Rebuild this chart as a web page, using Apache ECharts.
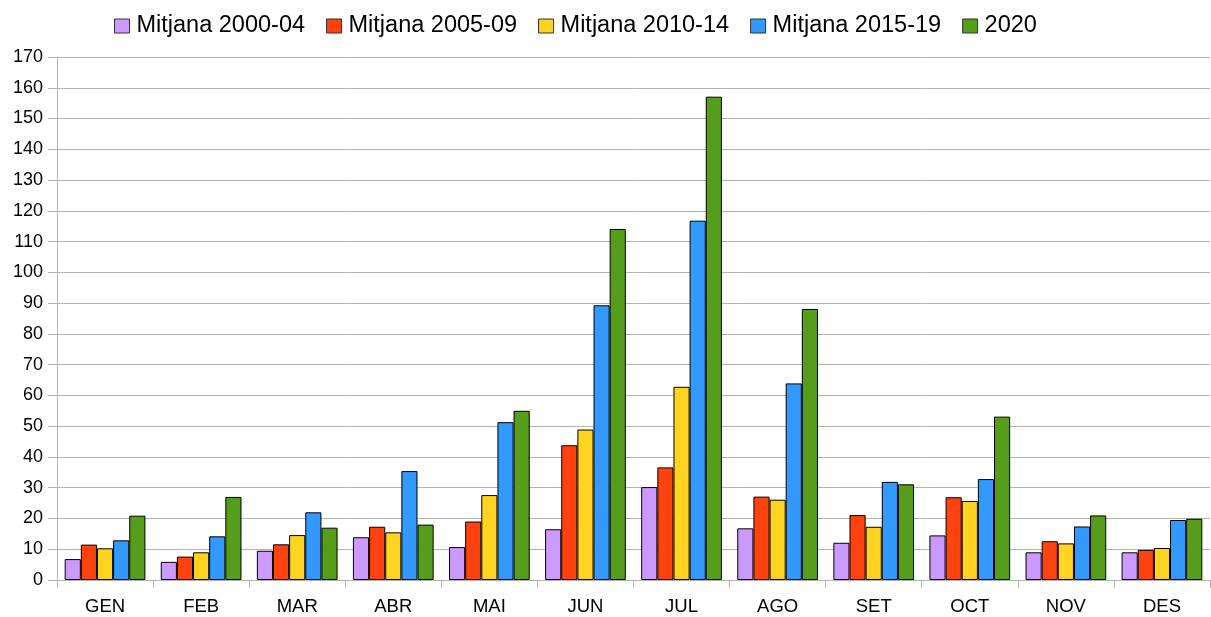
<!DOCTYPE html>
<html><head><meta charset="utf-8">
<script src="https://cdn.jsdelivr.net/npm/echarts@6/dist/echarts.min.js"></script>
<style>html,body{margin:0;padding:0;background:#fff}#c{width:1211px;height:617px}</style>
</head><body><div id="c"></div>
<script>
const categories = ['GEN','FEB','MAR','ABR','MAI','JUN','JUL','AGO','SET','OCT','NOV','DES'];
const seriesNames = ['Mitjana 2000-04','Mitjana 2005-09','Mitjana 2010-14','Mitjana 2015-19','2020'];
const m2000_04 = [6.8, 5.9, 9.5, 13.9, 10.7, 16.5, 30.2, 16.8, 12.1, 14.5, 9.0, 9.0];
const m2005_09 = [11.5, 7.6, 11.6, 17.3, 19.0, 43.8, 36.6, 27.1, 21.1, 26.9, 12.6, 9.8];
const m2010_14 = [10.3, 9.0, 14.6, 15.5, 27.6, 48.9, 62.8, 26.1, 17.3, 25.7, 11.9, 10.4];
const m2015_19 = [12.9, 14.2, 22.0, 35.4, 51.3, 89.3, 116.8, 63.9, 31.9, 32.8, 17.4, 19.5];
const y2020 = [20.9, 27.0, 17.0, 18.0, 55.0, 114.1, 157.1, 88.1, 31.1, 53.1, 21.0, 19.9];
const colors = ['#cc99ff','#ff420e','#ffd320','#3399ff','#579d1c'];
const allData = [m2000_04, m2005_09, m2010_14, m2015_19, y2020];

const chart = echarts.init(document.getElementById('c'), null, {renderer:'canvas'});
chart.setOption({
  animation: false,
  textStyle: {fontFamily: 'Liberation Sans'},
  legend: {
    top: 14, left: 114, padding: [0,0,0,0],
    itemWidth: 15, itemHeight: 14, itemGap: 21,
    icon: 'rect',
    textStyle: {fontSize: 23.5, color: '#000', fontFamily: 'Liberation Sans', padding: [0,0,0,2]},
    data: seriesNames.map((n,i)=>({name:n, itemStyle:{color:colors[i], borderColor:'#333', borderWidth:1}}))
  },
  grid: {left: 57, right: 1, top: 57, bottom: 37, containLabel: false},
  xAxis: {
    type: 'category', data: categories,
    axisLine: {lineStyle: {color: '#b3b3b3'}},
    axisTick: {show: true, length: 8, lineStyle: {color: '#b3b3b3'}},
    axisLabel: {fontSize: 18.5, color: '#000', margin: 17}
  },
  yAxis: {
    type: 'value', min: 0, max: 170, interval: 10,
    axisLine: {show: true, lineStyle: {color: '#b3b3b3'}},
    axisTick: {show: true, length: 9, lineStyle: {color: '#b3b3b3'}},
    splitLine: {lineStyle: {color: '#b3b3b3'}},
    axisLabel: {fontSize: 18, color: '#000', margin: 14}
  },
  series: seriesNames.map((n,i)=>({
    name: n, type: 'bar', data: allData[i],
    barGap: '0%', barCategoryGap: '16%',
    itemStyle: {color: colors[i], borderColor: '#000', borderWidth: 1}
  }))
});
</script></body></html>
